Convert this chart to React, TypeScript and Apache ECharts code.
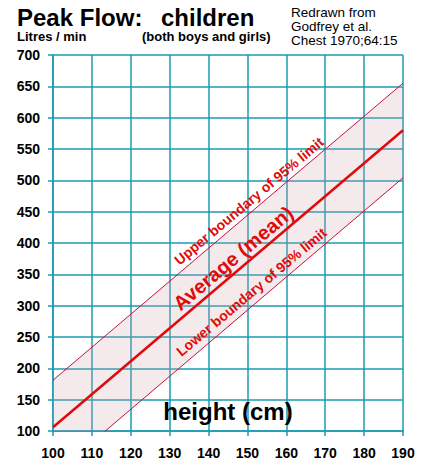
import React, { useEffect, useRef } from 'react';
import * as echarts from 'echarts';

// height (cm) at the two ends of each line
const heights = [100, 190];
// peak flow (litres / min)
const meanFlow = [106, 580];
const upperFlow = [181, 655];
const lowerFlow = [29, 504];

const xTicks = { min: 100, max: 190, interval: 10 };
const yTicks = { min: 100, max: 700, interval: 50 };

// labels that run along the band
const notes = [
  { name: 'Upper boundary of 95% limit', h: 150.4, v: 467, size: 14 },
  { name: 'Average (mean)', h: 146.3, v: 376, size: 20 },
  { name: 'Lower boundary of 95% limit', h: 151.0, v: 322, size: 14 }
];

const FONT = '"Liberation Sans", Arial, sans-serif';
const GRID = '#1b9ab2';
const RED = '#e00a0a';
const EDGE = '#c8103a';

const App: React.FC = () => {
  const chartRef = useRef<HTMLDivElement>(null);

  useEffect(() => {
    if (!chartRef.current) return;
    const chart = echarts.init(chartRef.current, undefined, { renderer: 'svg' });

    const pts = (ys: number[]) => heights.map((h, i) => [h, ys[i]]);

    // 95% band drawn as one polygon, clipped to the grid
    const renderBand = (params: any, api: any) => {
      if (params.dataIndex !== 0) return null;
      const top = heights.map((h, i) => api.coord([h, upperFlow[i]]));
      const bottom = heights.map((h, i) => api.coord([h, lowerFlow[i]])).reverse();
      return {
        type: 'polygon',
        shape: { points: top.concat(bottom) },
        style: { fill: 'rgba(210,165,172,0.24)' },
        silent: true
      };
    };

    const option: any = {
      animation: false,
      backgroundColor: '#fff',
      grid: { left: 53, right: 22, top: 55, bottom: 41 },
      graphic: [
        {
          type: 'text', left: 17, top: 5,
          style: { text: 'Peak Flow:', font: `bold 24px ${FONT}`, fill: '#000' }
        },
        {
          type: 'text', left: 161, top: 5,
          style: { text: 'children', font: `bold 24px ${FONT}`, fill: '#000' }
        },
        {
          type: 'text', left: 17, top: 30,
          style: { text: 'Litres / min', font: `bold 13px ${FONT}`, fill: '#000' }
        },
        {
          type: 'text', left: 142, top: 30,
          style: { text: '(both boys and girls)', font: `bold 13px ${FONT}`, fill: '#000' }
        },
        {
          type: 'text', left: 291, top: 5,
          style: { text: 'Redrawn from', font: `13.5px ${FONT}`, fill: '#000' }
        },
        {
          type: 'text', left: 291, top: 19,
          style: { text: 'Godfrey et al.', font: `13.5px ${FONT}`, fill: '#000' }
        },
        {
          type: 'text', left: 291, top: 33,
          style: { text: 'Chest 1970;64:15', font: `13.5px ${FONT}`, fill: '#000' }
        },
        {
          type: 'text', x: 228, y: 411,
          style: {
            text: 'height (cm)', font: `bold 24px ${FONT}`, fill: '#000',
            align: 'center', verticalAlign: 'middle'
          },
          z: 100
        }
      ],
      xAxis: {
        type: 'value',
        ...xTicks,
        axisLine: { show: true, lineStyle: { color: GRID, width: 1.5 } },
        axisTick: { show: true, length: 5, lineStyle: { color: GRID, width: 1.5 } },
        splitLine: { show: true, lineStyle: { color: GRID, width: 1.5 } },
        axisLabel: {
          color: '#000', fontWeight: 'bold', fontSize: 14, fontFamily: FONT, margin: 15
        }
      },
      yAxis: {
        type: 'value',
        ...yTicks,
        axisLine: { show: true, lineStyle: { color: GRID, width: 1.5 } },
        axisTick: { show: true, length: 5, lineStyle: { color: GRID, width: 1.5 } },
        splitLine: { show: true, lineStyle: { color: GRID, width: 1.5 } },
        axisLabel: {
          color: '#000', fontWeight: 'bold', fontSize: 14, fontFamily: FONT, margin: 13
        }
      },
      series: [
        {
          name: 'band',
          type: 'custom',
          clip: true,
          renderItem: renderBand,
          data: heights,
          z: 1
        },
        {
          name: 'lower',
          type: 'line',
          data: pts(lowerFlow),
          symbol: 'none',
          lineStyle: { color: EDGE, width: 1 },
          z: 3
        },
        {
          name: 'upper',
          type: 'line',
          data: pts(upperFlow),
          symbol: 'none',
          lineStyle: { color: EDGE, width: 1 },
          z: 3
        },
        {
          name: 'mean',
          type: 'line',
          data: pts(meanFlow),
          symbol: 'none',
          lineStyle: { color: RED, width: 2.5 },
          z: 4
        },
        {
          name: 'notes',
          type: 'scatter',
          symbolSize: 0,
          silent: true,
          z: 5,
          itemStyle: { opacity: 1 },
          data: notes.map(n => ({
            name: n.name,
            value: [n.h, n.v],
            label: { fontSize: n.size }
          })),
          label: {
            show: true,
            position: 'inside',
            formatter: '{b}',
            rotate: 40,
            color: RED,
            opacity: 1,
            fontWeight: 'bold',
            fontFamily: FONT,
            align: 'center',
            verticalAlign: 'middle'
          }
        }
      ]
    };

    chart.setOption(option);

    return () => {
      chart.dispose();
    };
  }, []);

  return (
    <div style={{ position: 'fixed', left: 0, top: 0, width: 425, height: 472, background: '#fff' }}>
      <div ref={chartRef} style={{ width: '100%', height: '100%' }} />
    </div>
  );
};

export default App;
